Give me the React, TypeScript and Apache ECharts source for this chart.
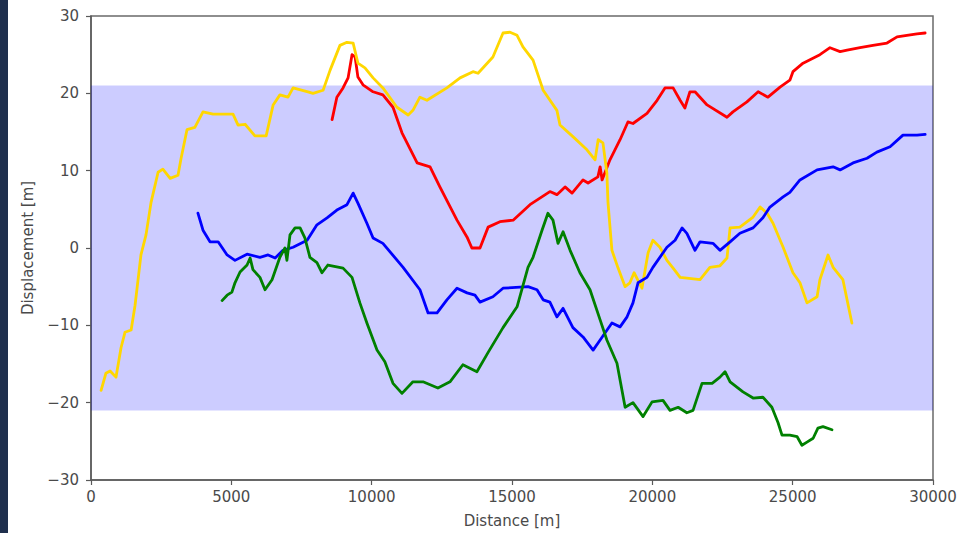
import React, { useEffect, useRef } from "react";
import * as echarts from "echarts";

const xTicks = [0, 5000, 10000, 15000, 20000, 25000, 30000];
const yTicks = [-30, -20, -10, 0, 10, 20, 30];
const bandLimits = [-21, 21];

const yellowLine = [[360,-18.4],[530,-16.2],[680,-15.9],[890,-16.7],[1070,-12.9],[1210,-10.9],[1430,-10.6],[1570,-7.4],[1780,-0.9],[1960,1.7],[2140,5.9],[2390,9.8],[2560,10.2],[2820,9.0],[3100,9.4],[3210,11.6],[3420,15.3],[3700,15.6],[3990,17.6],[4350,17.3],[5060,17.3],[5240,15.9],[5490,16.0],[5840,14.5],[6240,14.5],[6490,18.5],[6730,19.8],[7020,19.5],[7200,20.7],[7730,20.2],[7910,20.0],[8270,20.4],[8520,23.0],[8870,26.2],[9120,26.6],[9340,26.5],[9510,23.9],[9760,23.3],[10050,22.0],[10400,20.7],[10900,18.2],[11300,17.2],[11470,17.8],[11720,19.5],[11970,19.1],[12680,20.7],[13150,22.0],[13610,22.8],[13790,22.6],[14320,24.7],[14680,27.8],[14930,27.9],[15180,27.5],[15390,26.0],[15750,24.3],[16110,20.4],[16600,17.8],[16710,15.9],[17170,14.4],[17670,12.7],[17960,11.4],[18070,14.0],[18240,13.6],[18380,9.7],[18420,5.9],[18560,-0.3],[18780,-2.6],[19030,-5.0],[19200,-4.5],[19350,-3.2],[19630,-5.2],[19850,-0.6],[20020,1.0],[20270,0.1],[20520,-1.6],[20740,-2.6],[20990,-3.8],[21230,-3.9],[21700,-4.1],[22050,-2.5],[22410,-2.3],[22660,-1.3],[22770,2.6],[23120,2.7],[23590,4.0],[23840,5.3],[24090,4.5],[24300,3.2],[24660,0.1],[25010,-3.2],[25260,-4.5],[25510,-7.1],[25870,-6.3],[25970,-4.1],[26260,-0.9],[26440,-2.5],[26790,-4.1],[27110,-9.7]];

const redLine = [[8590,16.6],[8760,19.5],[8980,20.7],[9160,22.0],[9300,25.0],[9410,24.7],[9510,22.1],[9690,21.1],[10050,20.2],[10400,19.8],[10760,18.2],[11080,14.9],[11620,11.0],[12080,10.5],[12430,7.9],[13040,3.6],[13400,1.4],[13570,0.0],[13860,0.0],[14150,2.7],[14570,3.4],[15040,3.6],[15640,5.6],[16350,7.3],[16600,6.9],[16890,7.9],[17140,7.1],[17530,8.8],[17710,8.4],[18060,9.2],[18140,10.5],[18210,8.8],[18490,11.4],[18850,14.0],[19130,16.3],[19310,16.1],[19810,17.4],[20170,19.1],[20450,20.7],[20740,20.7],[20990,19.1],[21160,18.1],[21340,20.2],[21520,20.2],[21950,18.5],[22660,16.9],[22870,17.6],[23370,18.9],[23770,20.2],[24120,19.5],[24550,20.8],[24900,21.7],[25010,22.8],[25370,23.9],[25970,25.0],[26330,25.9],[26690,25.4],[26940,25.6],[27400,25.9],[27860,26.2],[28360,26.5],[28720,27.3],[29070,27.5],[29430,27.7],[29720,27.8]];

const blueLine = [[3810,4.5],[3990,2.3],[4240,0.8],[4530,0.8],[4850,-0.9],[5130,-1.6],[5560,-0.8],[6020,-1.2],[6310,-0.9],[6560,-1.3],[6840,-0.3],[7200,0.1],[7700,1.0],[8050,3.0],[8410,3.9],[8760,4.9],[9120,5.6],[9340,7.1],[9510,5.8],[9830,3.2],[10050,1.3],[10400,0.6],[11120,-2.5],[11720,-5.4],[12010,-8.4],[12330,-8.4],[12680,-6.7],[13040,-5.2],[13400,-5.8],[13680,-6.1],[13860,-7.0],[14320,-6.3],[14680,-5.2],[15570,-5.0],[15890,-5.4],[16110,-6.7],[16350,-7.0],[16600,-8.9],[16820,-7.8],[17170,-10.3],[17530,-11.5],[17890,-13.2],[18140,-11.9],[18560,-9.7],[18850,-10.2],[19100,-8.9],[19310,-7.1],[19490,-4.5],[19810,-3.8],[20020,-2.5],[20520,0.1],[20810,1.0],[21060,2.6],[21230,1.9],[21520,-0.3],[21700,0.8],[22160,0.6],[22410,-0.3],[22770,0.8],[23120,1.9],[23590,2.6],[23940,3.9],[24190,5.3],[24660,6.6],[24900,7.2],[25260,8.8],[25870,10.1],[26440,10.5],[26690,10.1],[27150,11.0],[27650,11.6],[28000,12.4],[28470,13.1],[28930,14.6],[29430,14.6],[29720,14.7]];

const greenLine = [[4670,-6.8],[4850,-6.1],[5020,-5.7],[5130,-4.5],[5310,-3.1],[5560,-2.2],[5670,-1.3],[5770,-2.8],[6020,-3.8],[6200,-5.4],[6450,-4.1],[6730,-1.2],[6910,0.0],[6980,-1.6],[7090,1.7],[7270,2.6],[7450,2.6],[7620,1.3],[7800,-1.2],[8050,-1.9],[8230,-3.2],[8440,-2.2],[8980,-2.6],[9300,-3.8],[9580,-7.1],[9830,-9.7],[10190,-13.2],[10470,-14.7],[10760,-17.5],[11080,-18.8],[11470,-17.3],[11830,-17.3],[12360,-18.1],[12790,-17.3],[13250,-15.1],[13750,-16.0],[14150,-13.5],[14680,-10.3],[15180,-7.6],[15570,-2.5],[15750,-1.2],[16070,2.3],[16280,4.5],[16460,3.6],[16640,0.6],[16820,2.1],[17070,-0.3],[17420,-3.2],[17780,-5.4],[18140,-9.3],[18380,-11.9],[18740,-14.9],[19030,-20.6],[19310,-20.0],[19670,-21.8],[19990,-19.9],[20380,-19.7],[20630,-21.0],[20920,-20.6],[21230,-21.3],[21450,-21.0],[21770,-17.5],[22130,-17.5],[22410,-16.7],[22590,-16.0],[22770,-17.3],[23230,-18.6],[23590,-19.4],[23940,-19.3],[24260,-20.6],[24480,-22.6],[24620,-24.2],[24900,-24.2],[25160,-24.4],[25330,-25.5],[25510,-25.1],[25730,-24.6],[25900,-23.3],[26080,-23.1],[26400,-23.5]];

const seriesDefs = [
  { name: "red", color: "#ff0000", data: redLine },
  { name: "yellow", color: "#ffd700", data: yellowLine },
  { name: "blue", color: "#0000ff", data: blueLine },
  { name: "green", color: "#008000", data: greenLine },
];

const FONT = "DejaVu Sans";
const fmt = (v: number) => (v < 0 ? "\u2212" + Math.abs(v) : String(v));

export default function App() {
  const ref = useRef<HTMLDivElement>(null);
  useEffect(() => {
    const chart = echarts.init(ref.current!, null, { renderer: "svg" });
    const axisCommon = {
      axisLine: { show: true, onZero: false, lineStyle: { color: "#5a5a5a", width: 1.5 } },
      axisTick: { show: true, inside: false, length: 5, lineStyle: { color: "#5a5a5a", width: 1.2 } },
      splitLine: { show: false },
      nameTextStyle: { fontFamily: FONT, fontSize: 15, color: "#4a4a4a" },
    };
    chart.setOption({
      animation: false,
      backgroundColor: "#ffffff",
      grid: {
        left: 91, top: 16, right: 39, bottom: 53,
        show: true, borderColor: "#6a6a6a", borderWidth: 1.5, backgroundColor: "transparent",
      },
      graphic: [
        { type: "rect", left: 0, top: 0, shape: { width: 8, height: 533 }, style: { fill: "#1f2f4d" }, z: 100 },
      ],
      xAxis: {
        type: "value",
        min: xTicks[0], max: xTicks[xTicks.length - 1], interval: 5000,
        name: "Distance [m]", nameLocation: "middle", nameGap: 33,
        ...axisCommon,
        axisLabel: { fontFamily: FONT, fontSize: 15, color: "#4a4a4a", margin: 9, formatter: fmt },
      },
      yAxis: {
        type: "value",
        min: yTicks[0], max: yTicks[yTicks.length - 1], interval: 10,
        name: "Displacement [m]", nameLocation: "middle", nameGap: 56,
        ...axisCommon,
        axisLabel: { fontFamily: FONT, fontSize: 15, color: "#4a4a4a", margin: 12, formatter: fmt },
      },
      series: [
        {
          type: "line",
          name: "band",
          data: [],
          silent: true,
          z: 1,
          markArea: {
            silent: true,
            itemStyle: { color: "rgba(0,0,255,0.2)" },
            data: [[{ yAxis: bandLimits[0] }, { yAxis: bandLimits[1] }]],
          },
        },
        ...seriesDefs.map((s, i) => ({
          type: "line",
          name: s.name,
          data: s.data,
          showSymbol: false,
          symbol: "none",
          z: 3 + i,
          lineStyle: { color: s.color, width: 2.8, join: "round", cap: "round" },
          itemStyle: { color: s.color },
        })),
      ],
    });
    return () => chart.dispose();
  }, []);
  return (
    <div
      ref={ref}
      style={{ position: "absolute", left: 0, top: 0, width: 972, height: 533, background: "#fff" }}
    />
  );
}
